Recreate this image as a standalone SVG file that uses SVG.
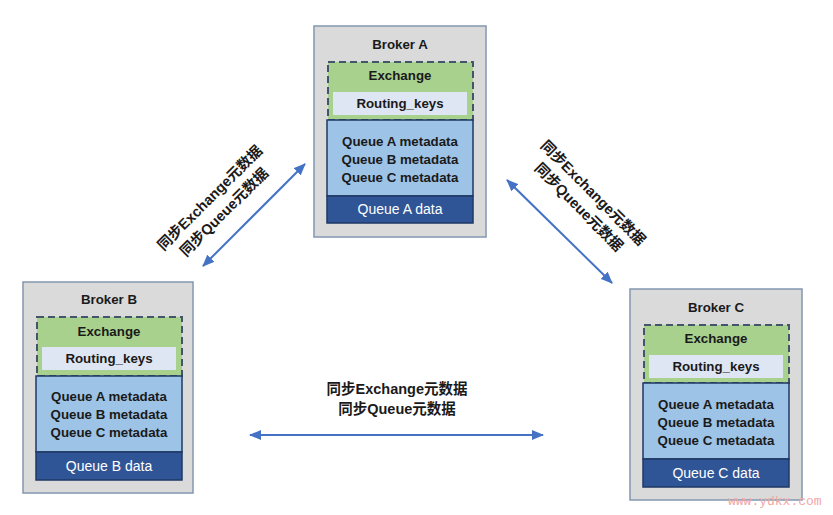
<svg xmlns="http://www.w3.org/2000/svg" width="833" height="515" viewBox="0 0 833 515">
<style>
.outer{fill:#DADADA;stroke:#8497B0;stroke-width:1.5}
.ex{fill:#A9D18E;stroke:#44546A;stroke-width:2;stroke-dasharray:7,4}
.rk{fill:#DFE6F3}
.meta{fill:#9DC3E6;stroke:#1F3864;stroke-width:1.5}
.data{fill:#2F5597;stroke:#1F3864;stroke-width:1.5}
text{font-family:"Liberation Sans","Noto Sans CJK SC",Arial,sans-serif;text-anchor:middle}
.b{font-size:13.3px;font-weight:bold;fill:#1a1a1a}
.w{font-size:14px;fill:#FFFFFF}
.lbl{font-size:14.5px;font-weight:bold;fill:#1a1a1a}
.conn{stroke:#4472C4;stroke-width:2;fill:none;marker-start:url(#ah);marker-end:url(#ah)}
.wm{font-family:"Liberation Mono",monospace;font-size:13px;fill:#F2A7A7;text-anchor:start}
</style>
<defs>
<marker id="ah" viewBox="0 0 12 10" refX="11" refY="5" markerWidth="12" markerHeight="10" markerUnits="userSpaceOnUse" orient="auto-start-reverse">
<path d="M0,0 L12,5 L0,10 Z" fill="#4472C4"/>
</marker>
</defs>

<g id="brokerA" transform="translate(314,26)">
<rect class="outer" x="0" y="0" width="172" height="211"/>
<text class="b" x="86" y="23">Broker A</text>
<rect class="ex" x="14" y="36" width="145" height="58"/>
<text class="b" x="86" y="54">Exchange</text>
<rect class="rk" x="19" y="66" width="134" height="23"/>
<text class="b" x="86" y="82">Routing_keys</text>
<rect class="meta" x="13" y="94" width="146" height="76"/>
<text class="b" x="86" y="120">Queue A metadata</text>
<text class="b" x="86" y="138">Queue B metadata</text>
<text class="b" x="86" y="156">Queue C metadata</text>
<rect class="data" x="13" y="170" width="146" height="27"/>
<text class="w" x="86" y="188">Queue A data</text>
</g>

<g id="brokerB" transform="translate(23,282)">
<rect class="outer" x="0" y="0" width="170" height="211"/>
<text class="b" x="86" y="22">Broker B</text>
<rect class="ex" x="14" y="35" width="145" height="59"/>
<text class="b" x="86" y="54">Exchange</text>
<rect class="rk" x="19" y="65" width="134" height="23"/>
<text class="b" x="86" y="81">Routing_keys</text>
<rect class="meta" x="13" y="94" width="146" height="76"/>
<text class="b" x="86" y="119">Queue A metadata</text>
<text class="b" x="86" y="137">Queue B metadata</text>
<text class="b" x="86" y="155">Queue C metadata</text>
<rect class="data" x="13" y="170" width="146" height="28"/>
<text class="w" x="86" y="189">Queue B data</text>
</g>

<g id="brokerC" transform="translate(630,289)">
<rect class="outer" x="0" y="0" width="172" height="211"/>
<text class="b" x="86" y="23">Broker C</text>
<rect class="ex" x="14" y="36" width="145" height="58"/>
<text class="b" x="86" y="54">Exchange</text>
<rect class="rk" x="19" y="66" width="134" height="23"/>
<text class="b" x="86" y="82">Routing_keys</text>
<rect class="meta" x="13" y="94" width="146" height="76"/>
<text class="b" x="86" y="120">Queue A metadata</text>
<text class="b" x="86" y="138">Queue B metadata</text>
<text class="b" x="86" y="156">Queue C metadata</text>
<rect class="data" x="13" y="170" width="146" height="28"/>
<text class="w" x="86" y="189">Queue C data</text>
</g>

<g id="connectors">
<line class="conn" x1="203" y1="266" x2="305" y2="164"/>
<line class="conn" x1="507" y1="180" x2="612" y2="283"/>
<line class="conn" x1="250" y1="435" x2="543" y2="435"/>
</g>

<g id="labels">
<g transform="translate(217,205) rotate(-45)">
<text class="lbl" x="0" y="-5">同步Exchange元数据</text>
<text class="lbl" x="0" y="15">同步Queue元数据</text>
</g>
<g transform="translate(586,200) rotate(45)">
<text class="lbl" x="0" y="-5">同步Exchange元数据</text>
<text class="lbl" x="0" y="15">同步Queue元数据</text>
</g>
<text class="lbl" x="397" y="394">同步Exchange元数据</text>
<text class="lbl" x="397" y="414">同步Queue元数据</text>
</g>

<text class="wm" x="728" y="505">www.ydkx.com</text>
</svg>
